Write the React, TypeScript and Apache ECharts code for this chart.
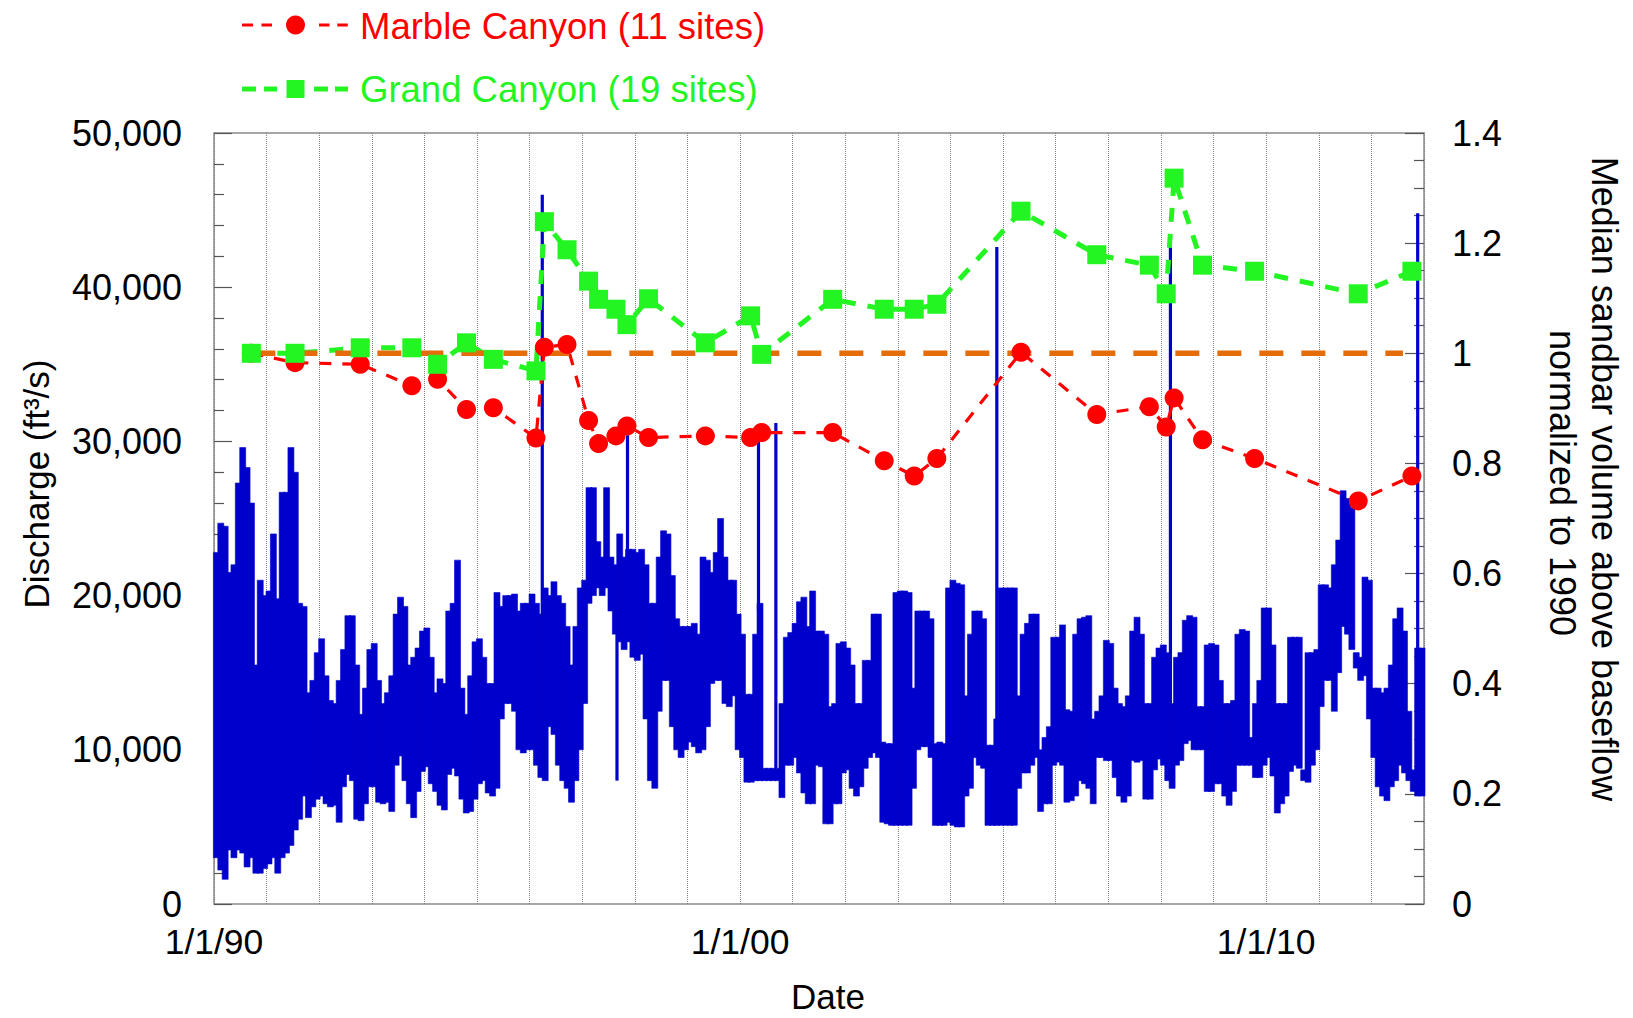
import React, { useEffect, useRef } from 'react';
import * as echarts from 'echarts';

// ---- Sandbar survey data (decimal year, normalized volume) ----
const SURVEY_YEARS = [
  1990.71, 1991.54, 1992.78, 1993.76, 1994.25, 1994.8, 1995.31, 1996.12, 1996.28, 1996.71,
  1997.12, 1997.31, 1997.64, 1997.85, 1998.26, 1999.34, 2000.2, 2000.41, 2001.76, 2002.74,
  2003.31, 2003.74, 2005.34, 2006.78, 2007.78, 2008.1, 2008.25, 2008.79, 2009.78, 2011.75, 2012.77,
];
const MARBLE = [
  1.0, 0.983, 0.98, 0.941, 0.953, 0.898, 0.901, 0.846, 1.011, 1.016,
  0.878, 0.836, 0.85, 0.868, 0.847, 0.85, 0.847, 0.856, 0.856, 0.805,
  0.777, 0.809, 1.002, 0.889, 0.903, 0.866, 0.919, 0.843, 0.809, 0.732, 0.777,
];
const GRAND = [
  1.0, 1.0, 1.01, 1.01, 0.98, 1.019, 0.989, 0.968, 1.239, 1.188,
  1.131, 1.098, 1.08, 1.052, 1.099, 1.019, 1.068, 0.998, 1.098, 1.08,
  1.08, 1.089, 1.258, 1.179, 1.16, 1.108, 1.318, 1.16, 1.149, 1.108, 1.149,
];
const REF_YEARS = [1990.71, 2012.6];
const REF_VALUES = [1, 1];

// ---- Discharge: monthly envelope (cfs), one row per year from 1990 ----
const FIRST_YEAR = 1990;
const FLOW_HIGH = [
  [22800, 24700, 24500, 21500, 22000, 27300, 29600, 28300, 26000, 15500, 21000, 20000],
  [20300, 24000, 19800, 26700, 26700, 29600, 28000, 19500, 19300, 13700, 14500, 16300],
  [17200, 14800, 13200, 13000, 14500, 16500, 18700, 18700, 15500, 12300, 14000, 16500],
  [16900, 14500, 13000, 13700, 14800, 18800, 19900, 19300, 15500, 16000, 16600, 17700],
  [17900, 16000, 13700, 14600, 14300, 19000, 19500, 22300, 14000, 12300, 14800, 17000],
  [17200, 16000, 14300, 14300, 20200, 19300, 20000, 20000, 20100, 19000, 19500, 19500],
  [20100, 19500, 18800, 20500, 20000, 20900, 20000, 19500, 18000, 15500, 18000, 20500],
  [21000, 27000, 27000, 23500, 22500, 27000, 22500, 22000, 24000, 22500, 23000, 23000],
  [22800, 23000, 22000, 19500, 19500, 22500, 24200, 24000, 21300, 18500, 18000, 18000],
  [18000, 18200, 17500, 22500, 22300, 21500, 22800, 25000, 22500, 21000, 21000, 18800],
  [17500, 13600, 13600, 17500, 19500, 8800, 8800, 8800, 8800, 13000, 17300, 17600],
  [18200, 19600, 19900, 18000, 20300, 17700, 17700, 17500, 12800, 13000, 16900, 17000],
  [16600, 15500, 13000, 13000, 15800, 15800, 18800, 18800, 10500, 10400, 10400, 20200],
  [20300, 20300, 20200, 14000, 19000, 19000, 19000, 18500, 10400, 10500, 10400, 20500],
  [21000, 20800, 20700, 13500, 17500, 19000, 19000, 18500, 10300, 10300, 12000, 20500],
  [20500, 20500, 20500, 13500, 17500, 18200, 18800, 18800, 10000, 10800, 11500, 17300],
  [17300, 18100, 12600, 12500, 17500, 18500, 18600, 18700, 12000, 12500, 13500, 17100],
  [16900, 14000, 13000, 12800, 13500, 17700, 18600, 17500, 13000, 13000, 16000, 16600],
  [16800, 16300, 13000, 16000, 16300, 18400, 18700, 18600, 12800, 12800, 16800, 16900],
  [16800, 14500, 13000, 13000, 13200, 17500, 17800, 17700, 10800, 13000, 14500, 19200],
  [19200, 16800, 13000, 13000, 13000, 17300, 17300, 17300, 8700, 16300, 16300, 16500],
  [20700, 20700, 20500, 22000, 23600, 26800, 26300, 25700, 16300, 16000, 21200, 21000],
  [14000, 14000, 13700, 14000, 15500, 18500, 19200, 17700, 12500, 8700, 16600, 16600],
];
const FLOW_LOW = [
  [3000, 2200, 1600, 3500, 3000, 3500, 3300, 2400, 3000, 2000, 2000, 2300],
  [2600, 3000, 2000, 3000, 3300, 3800, 4800, 5500, 7000, 5600, 6300, 6800],
  [7000, 6500, 6300, 6400, 5300, 7600, 8400, 8000, 5500, 5400, 6500, 7600],
  [7600, 6600, 6500, 6600, 6000, 9000, 9600, 8000, 6500, 5600, 7300, 8600],
  [8900, 7800, 7300, 6400, 6100, 8400, 8800, 8300, 6800, 5900, 6000, 6800],
  [7800, 8000, 7200, 7000, 7500, 12000, 13000, 13000, 12500, 10000, 9800, 10000],
  [10000, 9000, 8200, 8000, 11500, 11000, 9000, 8000, 7500, 6600, 8000, 10000],
  [13000, 19500, 20000, 20500, 20000, 20500, 19000, 17500, 17000, 16500, 17000, 16000],
  [15800, 16200, 12000, 8000, 7500, 12500, 14500, 14500, 11500, 10000, 9500, 10000],
  [10500, 10200, 9800, 10000, 11500, 14300, 14500, 14500, 13000, 12800, 13500, 10000],
  [9500, 7900, 7900, 8000, 8000, 8000, 8000, 8000, 8000, 6900, 9000, 9000],
  [9500, 8500, 7200, 6500, 6500, 9000, 8900, 5200, 5200, 6500, 6500, 8500],
  [8700, 7500, 7000, 7600, 8800, 9500, 9800, 9500, 5300, 5200, 5100, 5100],
  [5100, 5100, 5100, 7500, 10000, 10200, 10200, 9500, 5100, 5100, 5100, 5300],
  [5100, 5000, 5000, 7000, 7500, 9500, 9000, 8800, 5100, 5100, 5100, 5100],
  [5100, 5100, 5100, 7500, 8500, 8500, 9000, 9500, 6000, 6500, 6500, 9000],
  [9200, 9000, 6600, 6700, 7000, 8000, 7800, 7500, 6500, 9500, 9500, 9300],
  [9300, 8200, 7000, 6600, 7000, 9300, 9200, 9300, 6800, 6800, 8700, 9400],
  [9000, 8000, 7500, 9000, 9300, 10400, 10600, 10000, 10000, 10000, 7300, 7300],
  [7800, 7800, 7000, 6400, 7300, 9000, 9000, 9000, 9000, 8200, 8200, 9000],
  [9500, 8300, 5900, 6500, 7000, 8600, 9000, 8800, 8000, 7900, 9000, 10000],
  [12800, 14500, 14500, 12500, 15000, 18000, 17500, 16500, 15300, 14500, 14800, 12000],
  [9500, 7600, 7000, 6700, 7600, 8000, 9000, 8500, 8000, 7300, 7000, 7000],
];

// Short events (high-flow experiments, brief dips/peaks)
const SPIKE_YEARS = [1996.24, 1997.66, 1997.86, 1999.3, 2000.35, 2000.68, 2004.88, 2008.18, 2012.88];
const SPIKE_FROM = [9000, 17500, 22000, 17000, 19000, 8800, 10000, 13000, 8700];
const SPIKE_TO = [46000, 8000, 30400, 22300, 30100, 31200, 42600, 42800, 44800];

const X_LABELS: Record<number, string> = { 1990: '1/1/90', 2000: '1/1/00', 2010: '1/1/10' };

const BLUE = '#0000CC';
const RED = '#FF0000';
const GREEN = '#22F522';
const ORANGE = '#E46C0A';
const FONT = '"Liberation Sans", Arial, sans-serif';

export default function App() {
  const ref = useRef<HTMLDivElement>(null);

  useEffect(() => {
    if (!ref.current) return;
    const chart = echarts.init(ref.current, null, { renderer: 'svg' });

    const band: number[][] = [];
    FLOW_HIGH.forEach((row, yi) => {
      row.forEach((hi, mi) => {
        band.push([FIRST_YEAR + yi + mi / 12, FLOW_LOW[yi][mi], hi]);
      });
    });
    const spikes = SPIKE_YEARS.map((t, i) => [t, SPIKE_FROM[i], SPIKE_TO[i]]);

    const legendGraphics: any[] = [];
    const redSegs = [[242, 253], [261.5, 272], [319, 329.5], [337.3, 347.8]];
    const greenSegs = [[242, 256], [264, 277], [314, 328], [335, 348]];
    redSegs.forEach(([a, b]) =>
      legendGraphics.push({ type: 'line', shape: { x1: a, y1: 25, x2: b, y2: 25 }, style: { stroke: RED, lineWidth: 3 } })
    );
    greenSegs.forEach(([a, b]) =>
      legendGraphics.push({ type: 'line', shape: { x1: a, y1: 89, x2: b, y2: 89 }, style: { stroke: GREEN, lineWidth: 5 } })
    );
    legendGraphics.push({ type: 'circle', shape: { cx: 295.5, cy: 25, r: 9.5 }, style: { fill: RED } });
    legendGraphics.push({ type: 'rect', shape: { x: 286.5, y: 80, width: 18, height: 18 }, style: { fill: GREEN } });
    legendGraphics.push({
      type: 'text', x: 360, y: 26,
      style: { text: 'Marble Canyon (11 sites)', fill: RED, fontSize: 36.5, fontFamily: FONT, align: 'left', verticalAlign: 'middle' },
    });
    legendGraphics.push({
      type: 'text', x: 360, y: 89,
      style: { text: 'Grand Canyon (19 sites)', fill: GREEN, fontSize: 36.5, fontFamily: FONT, align: 'left', verticalAlign: 'middle' },
    });

    const titleGraphics: any[] = [
      {
        type: 'text', x: 36, y: 484, rotation: Math.PI / 2,
        style: { text: 'Discharge (ft\u00B3/s)', fill: '#000', fontSize: 35, fontFamily: FONT, align: 'center', verticalAlign: 'middle' },
      },
      {
        type: 'text', x: 828, y: 996,
        style: { text: 'Date', fill: '#000', fontSize: 35, fontFamily: FONT, align: 'center', verticalAlign: 'middle' },
      },
      {
        type: 'text', x: 1604, y: 479, rotation: -Math.PI / 2,
        style: { text: 'Median sandbar volume above baseflow', fill: '#000', fontSize: 36, fontFamily: FONT, align: 'center', verticalAlign: 'middle' },
      },
      {
        type: 'text', x: 1562, y: 483, rotation: -Math.PI / 2,
        style: { text: 'normalized to 1990', fill: '#000', fontSize: 36, fontFamily: FONT, align: 'center', verticalAlign: 'middle' },
      },
    ];

    const option: any = {
      animation: false,
      backgroundColor: '#fff',
      grid: {
        left: 214, right: 209, top: 133, bottom: 114,
        show: true, borderColor: '#8a8a8a', borderWidth: 1.5, backgroundColor: 'transparent',
      },
      xAxis: {
        type: 'value', min: 1990, max: 2013, interval: 1,
        axisLine: { show: false },
        axisTick: { show: false },
        axisLabel: {
          interval: 0, margin: 22, color: '#000', fontSize: 35.5, fontFamily: FONT, lineHeight: 32,
          formatter: (v: number) => X_LABELS[Math.round(v)] || '',
        },
        splitLine: { show: true, lineStyle: { color: '#808080', width: 1, type: 'dotted' } },
      },
      yAxis: [
        {
          type: 'value', min: 0, max: 50000, interval: 10000, position: 'left',
          axisLine: { show: false },
          axisTick: { show: true, inside: true, length: 18, lineStyle: { color: '#555', width: 1.2 } },
          minorTick: { show: true, splitNumber: 5, length: 10, lineStyle: { color: '#555', width: 1.2 } },
          axisLabel: {
            margin: 32, color: '#000', fontSize: 36, fontFamily: FONT, lineHeight: 32,
            formatter: (v: number) => v.toLocaleString('en-US'),
          },
          splitLine: { show: false },
        },
        {
          type: 'value', min: 0, max: 1.4, interval: 0.2, position: 'right',
          axisLine: { show: false },
          axisTick: { show: true, inside: true, length: 19, lineStyle: { color: '#555', width: 1.2 } },
          minorTick: { show: true, splitNumber: 4, length: 10, lineStyle: { color: '#555', width: 1.2 } },
          axisLabel: {
            margin: 28, color: '#000', fontSize: 36, fontFamily: FONT, lineHeight: 32,
            formatter: (v: number) => String(Math.round(v * 10) / 10),
          },
          splitLine: { show: false },
        },
      ],
      series: [
        {
          type: 'custom', name: 'Discharge', xAxisIndex: 0, yAxisIndex: 0,
          data: band, encode: { x: 0, y: [1, 2] },
          renderItem: (_p: any, api: any) => {
            const t = api.value(0);
            const a = api.coord([t, api.value(2)]);
            const b = api.coord([t + 1 / 12, api.value(1)]);
            return {
              type: 'rect',
              shape: { x: a[0] - 0.6, y: a[1], width: b[0] - a[0] + 1.6, height: b[1] - a[1] },
              style: { fill: BLUE, stroke: BLUE, lineWidth: 0.6 },
            };
          },
        },
        {
          type: 'custom', name: 'Peaks', xAxisIndex: 0, yAxisIndex: 0,
          data: spikes, encode: { x: 0, y: [1, 2] },
          renderItem: (_p: any, api: any) => {
            const t = api.value(0);
            const a = api.coord([t, api.value(1)]);
            const b = api.coord([t, api.value(2)]);
            return {
              type: 'rect',
              shape: { x: a[0] - 1.6, y: Math.min(a[1], b[1]), width: 3.2, height: Math.abs(b[1] - a[1]) },
              style: { fill: BLUE },
            };
          },
        },
        {
          type: 'line', name: 'Marble Canyon (11 sites)', yAxisIndex: 1,
          data: SURVEY_YEARS.map((t, i) => [t, MARBLE[i]]),
          symbol: 'circle', symbolSize: 19,
          itemStyle: { color: RED },
          lineStyle: { color: RED, width: 3.2, type: [12, 11] },
        },
        {
          type: 'line', name: 'Grand Canyon (19 sites)', yAxisIndex: 1,
          data: SURVEY_YEARS.map((t, i) => [t, GRAND[i]]),
          symbol: 'rect', symbolSize: 19,
          itemStyle: { color: GREEN },
          lineStyle: { color: GREEN, width: 5, type: [14, 12] },
        },
        {
          type: 'line', name: 'Reference', yAxisIndex: 1,
          data: REF_YEARS.map((t, i) => [t, REF_VALUES[i]]),
          symbol: 'none',
          lineStyle: { color: ORANGE, width: 5.5, type: [24, 18] },
        },
      ],
      graphic: [...legendGraphics, ...titleGraphics],
    };

    chart.setOption(option);
    return () => chart.dispose();
  }, []);

  return (
    <div
      ref={ref}
      style={{ position: 'fixed', left: 0, top: 0, width: '1633px', height: '1018px', background: '#fff' }}
    />
  );
}
